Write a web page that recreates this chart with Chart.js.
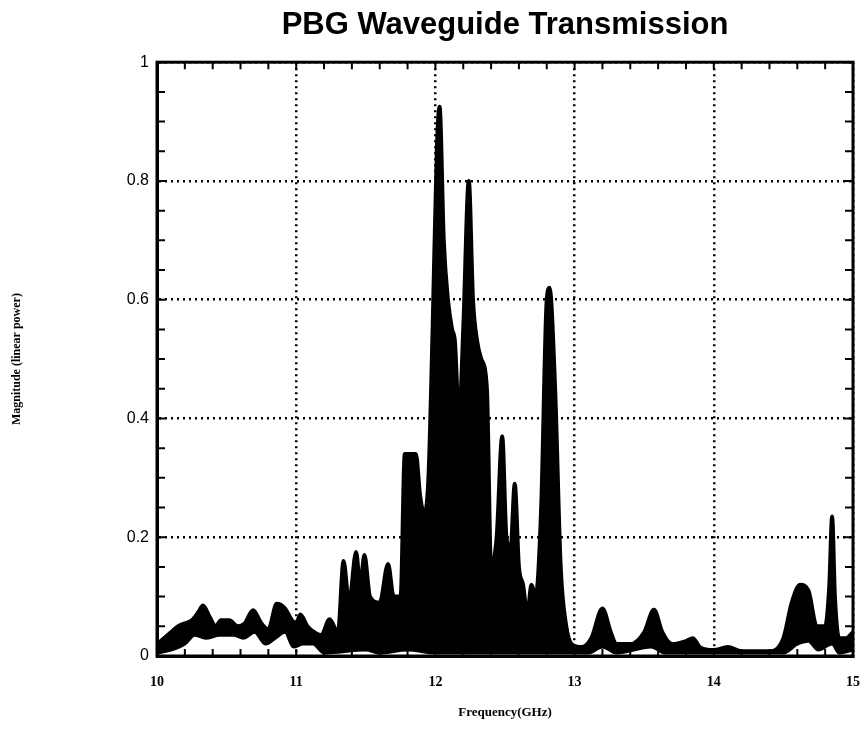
<!DOCTYPE html>
<html>
<head>
<meta charset="utf-8">
<script src="https://cdn.jsdelivr.net/npm/chart.js@4/dist/chart.umd.min.js"></script>
<style>
html,body{margin:0;padding:0;background:#fff;}
#wrap{width:865px;height:732px;}
</style>
</head>
<body>
<div id="wrap"><canvas id="c" width="865" height="732"></canvas></div>
<script>
// Upper envelope of the overlapping transmission curves
const freqUpper = [10.00,10.05,10.10,10.15,10.20,10.25,10.30,10.33,10.38,10.42,10.46,10.52,10.58,10.63,10.69,10.75,10.80,10.86,10.92,10.97,11.00,11.03,11.08,11.13,11.18,11.24,11.30,11.34,11.38,11.43,11.46,11.49,11.53,11.60,11.66,11.70,11.75,11.78,11.86,11.89,11.92,11.95,11.98,12.01,12.03,12.06,12.09,12.12,12.14,12.17,12.20,12.24,12.27,12.30,12.33,12.37,12.40,12.44,12.48,12.51,12.54,12.57,12.60,12.63,12.66,12.69,12.72,12.76,12.80,12.82,12.86,12.90,12.94,12.98,13.05,13.12,13.20,13.26,13.30,13.40,13.50,13.57,13.63,13.70,13.80,13.85,13.90,14.00,14.10,14.20,14.30,14.40,14.50,14.56,14.62,14.68,14.74,14.80,14.83,14.85,14.87,14.90,14.95,15.00];
const magUpper  = [0.02,0.03,0.04,0.05,0.055,0.06,0.075,0.085,0.065,0.05,0.06,0.06,0.05,0.055,0.077,0.055,0.045,0.088,0.08,0.06,0.055,0.07,0.05,0.04,0.035,0.062,0.04,0.16,0.09,0.175,0.12,0.17,0.10,0.09,0.155,0.10,0.10,0.34,0.34,0.27,0.24,0.30,0.55,0.85,0.925,0.70,0.60,0.55,0.53,0.40,0.55,0.80,0.60,0.53,0.50,0.45,0.15,0.20,0.37,0.20,0.18,0.29,0.15,0.12,0.07,0.12,0.10,0.25,0.60,0.62,0.45,0.15,0.05,0.02,0.015,0.03,0.08,0.04,0.02,0.02,0.04,0.078,0.04,0.02,0.025,0.03,0.015,0.01,0.015,0.008,0.008,0.008,0.03,0.09,0.12,0.11,0.05,0.05,0.12,0.235,0.10,0.03,0.03,0.04];
// Lower envelope of the overlapping transmission curves
const freqLower = [10.00,10.10,10.20,10.27,10.35,10.45,10.55,10.62,10.70,10.78,10.85,10.92,10.98,11.05,11.12,11.20,11.50,11.60,11.80,12.00,12.90,13.10,13.20,13.30,13.55,13.65,14.50,14.60,14.68,14.75,14.85,14.90,15.00];
const magLower  = [0.005,0.01,0.02,0.035,0.03,0.035,0.035,0.03,0.04,0.02,0.03,0.04,0.015,0.02,0.02,0.005,0.01,0.005,0.01,0.005,0.005,0.005,0.015,0.005,0.015,0.005,0.005,0.02,0.025,0.01,0.02,0.005,0.01];

const xTicks = [10,11,12,13,14,15];
const yTicks = [0,0.2,0.4,0.6,0.8,1];

const toPts = (xs, ys) => xs.map((x,i)=>({x:x, y:ys[i]}));

const frame = {
  id:'frame',
  afterDatasetsDraw(chart){
    const ctx = chart.ctx, a = chart.chartArea;
    const xs = chart.scales.x, ys = chart.scales.y;
    ctx.save();
    ctx.strokeStyle = '#000';
    ctx.lineWidth = 2;
    for (let k = 0; k <= 25; k++) {
      const v = 10 + k*0.2;
      const px = xs.getPixelForValue(v);
      ctx.beginPath();
      ctx.moveTo(px, a.bottom); ctx.lineTo(px, a.bottom - 7);
      ctx.moveTo(px, a.top); ctx.lineTo(px, a.top + 7);
      ctx.stroke();
    }
    for (let k = 0; k <= 20; k++) {
      const v = k*0.05;
      const py = ys.getPixelForValue(v);
      ctx.beginPath();
      ctx.moveTo(a.left, py); ctx.lineTo(a.left + 8, py);
      ctx.moveTo(a.right, py); ctx.lineTo(a.right - 8, py);
      ctx.stroke();
    }
    ctx.lineWidth = 3;
    ctx.strokeRect(a.left, a.top, a.right - a.left, a.bottom - a.top);
    ctx.restore();
  }
};

new Chart(document.getElementById('c'), {
  type:'line',
  data:{
    datasets:[
      {label:'lower', data: toPts(freqLower, magLower), borderColor:'#000', borderWidth:3, pointRadius:0, fill:false, cubicInterpolationMode:'monotone'},
      {label:'upper', data: toPts(freqUpper, magUpper), borderColor:'#000', backgroundColor:'#000', borderWidth:4, pointRadius:0, fill:'-1', cubicInterpolationMode:'monotone'}
    ]
  },
  options:{
    responsive:false,
    animation:false,
    layout:{padding:{left:0,right:12,top:0,bottom:0}},
    plugins:{
      legend:{display:false},
      tooltip:{enabled:false},
      title:{display:true, text:'PBG Waveguide Transmission', fullSize:false, color:'#000',
        font:{family:'"Liberation Sans", Arial, sans-serif', size:31, weight:'bold'},
        padding:{top:7,bottom:18}}
    },
    scales:{
      x:{type:'linear', min:10, max:15,
        afterBuildTicks(s){ s.ticks = xTicks.map(v=>({value:v})); },
        afterFit(s){ s.height = 76; s.paddingLeft = 0; s.paddingRight = 0; },
        grid:{color:'#000', lineWidth:2.5, drawTicks:false},
        border:{display:true, color:'#000', width:3, dash:[2,4]},
        ticks:{color:'#000', padding:18, maxRotation:0, callback:v=>String(v),
          font:{family:'"Liberation Serif", "Times New Roman", serif', size:14, weight:'bold'}},
        title:{display:true, text:'Frequency(GHz)', color:'#000',
          font:{family:'"Liberation Serif", "Times New Roman", serif', size:13, weight:'bold'},
          padding:{top:0,bottom:12}}
      },
      y:{type:'linear', min:0, max:1,
        afterBuildTicks(s){ s.ticks = yTicks.map(v=>({value:v})); },
        afterFit(s){ s.width = 157; s.paddingTop = 0; s.paddingBottom = 0; },
        grid:{color:'#000', lineWidth:2.5, drawTicks:false},
        border:{display:true, color:'#000', width:3, dash:[2,4]},
        ticks:{color:'#000', padding:8, callback:v=>String(v),
          font:{family:'"Liberation Sans", Arial, sans-serif', size:16}},
        title:{display:true, text:'Magnitude (linear power)', color:'#000',
          font:{family:'"Liberation Serif", "Times New Roman", serif', size:12, weight:'bold'},
          padding:{top:10,bottom:0}}
      }
    }
  },
  plugins:[frame]
});
</script>
</body>
</html>
